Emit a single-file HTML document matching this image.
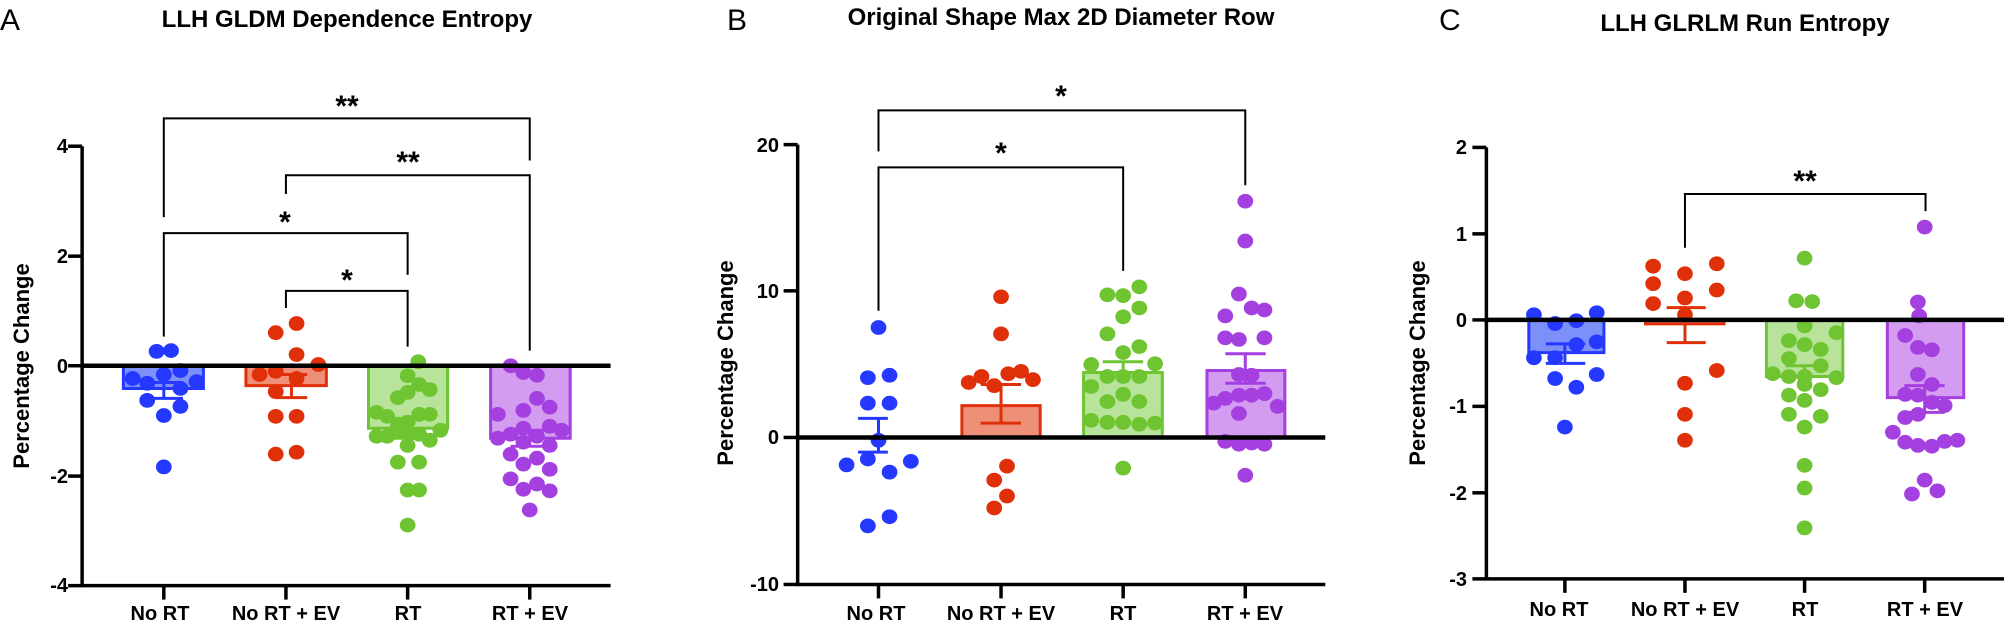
<!DOCTYPE html>
<html><head><meta charset="utf-8"><style>
html,body{margin:0;padding:0;background:#fff}
svg{display:block}
text{font-family:"Liberation Sans",Arial,sans-serif;font-weight:bold;fill:#000}
.ax{stroke:#000;stroke-width:3.5;fill:none}
.br{stroke:#000;stroke-width:2;fill:none}
.z{stroke:#000;stroke-width:4.5}
.tk{font-size:20px}
.cat{font-size:20px}
.ttl{font-size:24px}
.yl{font-size:22px}
.pl{font-size:30px;font-weight:normal}
.st{font-size:30px}
</style></head><body>
<svg width="2008" height="624" viewBox="0 0 2008 624" xmlns="http://www.w3.org/2000/svg">
<defs>
<style>
.g line,.g rect,.g polyline{vector-effect:non-scaling-stroke}
.b circle{fill:#2438FF}.r circle{fill:#E0300A}.gr circle{fill:#6EC531}.p circle{fill:#A43FE0}
</style>
</defs>

<!-- ===== Panel A ===== -->
<text class="pl" x="0" y="30">A</text>
<text class="ttl" x="347" y="27" text-anchor="middle">LLH GLDM Dependence Entropy</text>
<text class="yl" transform="translate(29,366) rotate(-90)" text-anchor="middle">Percentage Change</text>
<g class="tk" text-anchor="end">
<text x="68" y="153">4</text><text x="68" y="263">2</text><text x="68" y="373">0</text><text x="68" y="483">-2</text><text x="68" y="592">-4</text>
</g>
<g class="cat" text-anchor="middle">
<text x="160" y="620">No RT</text><text x="286" y="620">No RT + EV</text><text x="408" y="620">RT</text><text x="530" y="620">RT + EV</text>
</g>
<g class="st" text-anchor="middle">
<text x="347" y="116">**</text><text x="408" y="172">**</text><text x="285" y="232">*</text><text x="347" y="290">*</text>
</g>
<g class="g" transform="scale(0.4255,0.3984)">
<rect x="290" y="918" width="188" height="57" fill="#7D8FF8" stroke="#2438FF" stroke-width="3"/>
<rect x="578" y="918" width="189" height="50" fill="#EE8F78" stroke="#E0300A" stroke-width="3"/>
<rect x="866" y="918" width="186" height="157" fill="#B8E39A" stroke="#6EC531" stroke-width="3"/>
<rect x="1153" y="918" width="187" height="182" fill="#D39CF0" stroke="#A43FE0" stroke-width="3"/>
<g class="b">
<circle cx="368" cy="882" r="18.5"/><circle cx="402" cy="880" r="18.5"/><circle cx="424" cy="930" r="18.5"/><circle cx="385" cy="940" r="18.5"/><circle cx="312" cy="950" r="18.5"/><circle cx="346" cy="962" r="18.5"/><circle cx="462" cy="958" r="18.5"/><circle cx="424" cy="975" r="18.5"/><circle cx="346" cy="1005" r="18.5"/><circle cx="424" cy="1020" r="18.5"/><circle cx="385" cy="1043" r="18.5"/><circle cx="385" cy="1172" r="18.5"/>
</g>
<g class="r">
<circle cx="648" cy="835" r="18.5"/><circle cx="697" cy="812" r="18.5"/><circle cx="697" cy="890" r="18.5"/><circle cx="648" cy="932" r="18.5"/><circle cx="610" cy="940" r="18.5"/><circle cx="748" cy="915" r="18.5"/><circle cx="697" cy="950" r="18.5"/><circle cx="648" cy="983" r="18.5"/><circle cx="697" cy="1045" r="18.5"/><circle cx="648" cy="1045" r="18.5"/><circle cx="648" cy="1140" r="18.5"/><circle cx="697" cy="1135" r="18.5"/>
</g>
<g class="gr">
<circle cx="983" cy="908" r="18.5"/><circle cx="958" cy="943" r="18.5"/><circle cx="985" cy="965" r="18.5"/><circle cx="1010" cy="978" r="18.5"/><circle cx="958" cy="985" r="18.5"/><circle cx="935" cy="998" r="18.5"/><circle cx="885" cy="1035" r="18.5"/><circle cx="910" cy="1045" r="18.5"/><circle cx="985" cy="1040" r="18.5"/><circle cx="1010" cy="1040" r="18.5"/><circle cx="958" cy="1060" r="18.5"/><circle cx="935" cy="1070" r="18.5"/><circle cx="1035" cy="1080" r="18.5"/><circle cx="885" cy="1095" r="18.5"/><circle cx="910" cy="1095" r="18.5"/><circle cx="958" cy="1090" r="18.5"/><circle cx="985" cy="1090" r="18.5"/><circle cx="1010" cy="1105" r="18.5"/><circle cx="958" cy="1118" r="18.5"/><circle cx="935" cy="1160" r="18.5"/><circle cx="985" cy="1160" r="18.5"/><circle cx="958" cy="1230" r="18.5"/><circle cx="985" cy="1230" r="18.5"/><circle cx="958" cy="1318" r="18.5"/><circle cx="935" cy="1080" r="18.5"/>
</g>
<g class="p">
<circle cx="1200" cy="918" r="18.5"/><circle cx="1230" cy="935" r="18.5"/><circle cx="1262" cy="942" r="18.5"/><circle cx="1262" cy="1000" r="18.5"/><circle cx="1292" cy="1022" r="18.5"/><circle cx="1230" cy="1030" r="18.5"/><circle cx="1170" cy="1040" r="18.5"/><circle cx="1230" cy="1075" r="18.5"/><circle cx="1292" cy="1070" r="18.5"/><circle cx="1320" cy="1080" r="18.5"/><circle cx="1200" cy="1090" r="18.5"/><circle cx="1262" cy="1095" r="18.5"/><circle cx="1170" cy="1100" r="18.5"/><circle cx="1230" cy="1110" r="18.5"/><circle cx="1292" cy="1118" r="18.5"/><circle cx="1200" cy="1140" r="18.5"/><circle cx="1262" cy="1150" r="18.5"/><circle cx="1230" cy="1165" r="18.5"/><circle cx="1292" cy="1178" r="18.5"/><circle cx="1200" cy="1202" r="18.5"/><circle cx="1230" cy="1228" r="18.5"/><circle cx="1262" cy="1215" r="18.5"/><circle cx="1292" cy="1232" r="18.5"/><circle cx="1245" cy="1280" r="18.5"/>
</g>
<g stroke-width="3">
<polyline points="340,960 430,960" stroke="#2438FF"/><polyline points="385,960 385,1000" stroke="#2438FF"/><polyline points="340,1000 430,1000" stroke="#2438FF"/>
<polyline points="648,940 722,940" stroke="#E0300A"/><polyline points="685,940 685,998" stroke="#E0300A"/><polyline points="648,998 722,998" stroke="#E0300A"/>
<polyline points="910,1050 1010,1050" stroke="#6EC531"/><polyline points="958,1050 958,1100" stroke="#6EC531"/><polyline points="910,1100 1010,1100" stroke="#6EC531"/>
<polyline points="1200,1080 1290,1080" stroke="#A43FE0"/><polyline points="1245,1080 1245,1120" stroke="#A43FE0"/><polyline points="1200,1120 1290,1120" stroke="#A43FE0"/>
</g>
<line x1="193" y1="918" x2="1435" y2="918" class="z"/>
<polyline class="ax" points="193,367 193,1470 1435,1470"/>
<g class="ax">
<line x1="160" y1="367" x2="193" y2="367"/><line x1="160" y1="643" x2="193" y2="643"/><line x1="160" y1="918" x2="193" y2="918"/><line x1="160" y1="1195" x2="193" y2="1195"/><line x1="160" y1="1470" x2="193" y2="1470"/>
<line x1="385" y1="1470" x2="385" y2="1505"/><line x1="672" y1="1470" x2="672" y2="1505"/><line x1="958" y1="1470" x2="958" y2="1505"/><line x1="1245" y1="1470" x2="1245" y2="1505"/>
</g>
<g class="br">
<polyline points="385,545 385,297 1245,297 1245,403"/>
<polyline points="672,487 672,440 1245,440 1245,880"/>
<polyline points="385,845 385,585 958,585 958,690"/>
<polyline points="672,773 672,730 958,730 958,870"/>
</g>
</g>

<!-- ===== Panel B ===== -->
<text class="pl" x="727" y="30">B</text>
<text class="ttl" x="1061" y="25" text-anchor="middle">Original Shape Max 2D Diameter Row</text>
<text class="yl" transform="translate(733,363) rotate(-90)" text-anchor="middle">Percentage Change</text>
<g class="tk" text-anchor="end">
<text x="779" y="152">20</text><text x="779" y="298">10</text><text x="779" y="444">0</text><text x="779" y="591">-10</text>
</g>
<g class="cat" text-anchor="middle">
<text x="876" y="620">No RT</text><text x="1001" y="620">No RT + EV</text><text x="1123" y="620">RT</text><text x="1245" y="620">RT + EV</text>
</g>
<g class="st" text-anchor="middle">
<text x="1061" y="106">*</text><text x="1001" y="163">*</text>
</g>
<g class="g" transform="translate(670,0) scale(0.4255,0.3984)">
<rect x="686" y="1018" width="184" height="80" fill="#EE8F78" stroke="#E0300A" stroke-width="3"/>
<rect x="972" y="935" width="185" height="163" fill="#B8E39A" stroke="#6EC531" stroke-width="3"/>
<rect x="1262" y="930" width="183" height="168" fill="#D39CF0" stroke="#A43FE0" stroke-width="3"/>
<g class="b">
<circle cx="490" cy="822" r="18.5"/><circle cx="465" cy="948" r="18.5"/><circle cx="516" cy="942" r="18.5"/><circle cx="465" cy="1012" r="18.5"/><circle cx="516" cy="1012" r="18.5"/><circle cx="490" cy="1105" r="18.5"/><circle cx="465" cy="1152" r="18.5"/><circle cx="415" cy="1167" r="18.5"/><circle cx="566" cy="1158" r="18.5"/><circle cx="516" cy="1185" r="18.5"/><circle cx="516" cy="1297" r="18.5"/><circle cx="465" cy="1320" r="18.5"/>
</g>
<g class="r">
<circle cx="778" cy="745" r="18.5"/><circle cx="778" cy="838" r="18.5"/><circle cx="702" cy="960" r="18.5"/><circle cx="732" cy="945" r="18.5"/><circle cx="762" cy="968" r="18.5"/><circle cx="795" cy="938" r="18.5"/><circle cx="825" cy="932" r="18.5"/><circle cx="853" cy="953" r="18.5"/><circle cx="792" cy="1170" r="18.5"/><circle cx="762" cy="1205" r="18.5"/><circle cx="792" cy="1245" r="18.5"/><circle cx="762" cy="1275" r="18.5"/>
</g>
<g class="gr">
<circle cx="1028" cy="740" r="18.5"/><circle cx="1065" cy="742" r="18.5"/><circle cx="1103" cy="720" r="18.5"/><circle cx="1103" cy="773" r="18.5"/><circle cx="1065" cy="795" r="18.5"/><circle cx="1028" cy="838" r="18.5"/><circle cx="1103" cy="870" r="18.5"/><circle cx="1065" cy="885" r="18.5"/><circle cx="990" cy="915" r="18.5"/><circle cx="1140" cy="913" r="18.5"/><circle cx="1028" cy="945" r="18.5"/><circle cx="1065" cy="945" r="18.5"/><circle cx="1103" cy="945" r="18.5"/><circle cx="990" cy="970" r="18.5"/><circle cx="1028" cy="1008" r="18.5"/><circle cx="1065" cy="990" r="18.5"/><circle cx="1103" cy="1008" r="18.5"/><circle cx="990" cy="1055" r="18.5"/><circle cx="1028" cy="1060" r="18.5"/><circle cx="1065" cy="1060" r="18.5"/><circle cx="1103" cy="1065" r="18.5"/><circle cx="1140" cy="1062" r="18.5"/><circle cx="1065" cy="1175" r="18.5"/>
</g>
<g class="p">
<circle cx="1352" cy="505" r="18.5"/><circle cx="1352" cy="605" r="18.5"/><circle cx="1337" cy="738" r="18.5"/><circle cx="1305" cy="793" r="18.5"/><circle cx="1367" cy="773" r="18.5"/><circle cx="1397" cy="778" r="18.5"/><circle cx="1305" cy="848" r="18.5"/><circle cx="1337" cy="852" r="18.5"/><circle cx="1397" cy="848" r="18.5"/><circle cx="1337" cy="940" r="18.5"/><circle cx="1367" cy="942" r="18.5"/><circle cx="1278" cy="1012" r="18.5"/><circle cx="1305" cy="1000" r="18.5"/><circle cx="1337" cy="992" r="18.5"/><circle cx="1367" cy="992" r="18.5"/><circle cx="1397" cy="988" r="18.5"/><circle cx="1428" cy="1020" r="18.5"/><circle cx="1337" cy="1038" r="18.5"/><circle cx="1305" cy="1108" r="18.5"/><circle cx="1337" cy="1115" r="18.5"/><circle cx="1367" cy="1112" r="18.5"/><circle cx="1397" cy="1115" r="18.5"/><circle cx="1352" cy="1193" r="18.5"/>
</g>
<g stroke-width="3">
<polyline points="442,1050 512,1050" stroke="#2438FF"/><polyline points="490,1050 490,1135" stroke="#2438FF"/><polyline points="442,1135 512,1135" stroke="#2438FF"/>
<polyline points="730,965 825,965" stroke="#E0300A"/><polyline points="778,965 778,1062" stroke="#E0300A"/><polyline points="730,1062 825,1062" stroke="#E0300A"/>
<polyline points="1017,908 1112,908" stroke="#6EC531"/><polyline points="1065,908 1065,960" stroke="#6EC531"/>
<polyline points="1305,888 1400,888" stroke="#A43FE0"/><polyline points="1352,888 1352,962" stroke="#A43FE0"/><polyline points="1305,962 1400,962" stroke="#A43FE0"/>
</g>
<line x1="300" y1="1098" x2="1540" y2="1098" class="z"/>
<polyline class="ax" points="300,363 300,1467 1540,1467"/>
<g class="ax">
<line x1="267" y1="363" x2="300" y2="363"/><line x1="267" y1="730" x2="300" y2="730"/><line x1="267" y1="1098" x2="300" y2="1098"/><line x1="267" y1="1467" x2="300" y2="1467"/>
<line x1="490" y1="1467" x2="490" y2="1502"/><line x1="778" y1="1467" x2="778" y2="1502"/><line x1="1065" y1="1467" x2="1065" y2="1502"/><line x1="1352" y1="1467" x2="1352" y2="1502"/>
</g>
<g class="br">
<polyline points="490,380 490,277 1352,277 1352,465"/>
<polyline points="490,780 490,420 1065,420 1065,680"/>
</g>
</g>

<!-- ===== Panel C ===== -->
<text class="pl" x="1439" y="30">C</text>
<text class="ttl" x="1745" y="31" text-anchor="middle">LLH GLRLM Run Entropy</text>
<text class="yl" transform="translate(1425,363) rotate(-90)" text-anchor="middle">Percentage Change</text>
<g class="tk" text-anchor="end">
<text x="1467" y="154">2</text><text x="1467" y="241">1</text><text x="1467" y="327">0</text><text x="1467" y="413">-1</text><text x="1467" y="500">-2</text><text x="1467" y="586">-3</text>
</g>
<g class="cat" text-anchor="middle">
<text x="1559" y="616">No RT</text><text x="1685" y="616">No RT + EV</text><text x="1805" y="616">RT</text><text x="1925" y="616">RT + EV</text>
</g>
<g class="st" text-anchor="middle">
<text x="1805" y="191">**</text>
</g>
<g class="g" transform="translate(1340,0) scale(0.4243,0.3984)">
<rect x="445" y="803" width="177" height="82" fill="#7D8FF8" stroke="#2438FF" stroke-width="3"/>
<rect x="720" y="803" width="185" height="10" fill="#EE8F78" stroke="#E0300A" stroke-width="3"/>
<rect x="1005" y="803" width="180" height="142" fill="#B8E39A" stroke="#6EC531" stroke-width="3"/>
<rect x="1290" y="803" width="180" height="195" fill="#D39CF0" stroke="#A43FE0" stroke-width="3"/>
<g class="b">
<circle cx="457" cy="790" r="18.5"/><circle cx="507" cy="812" r="18.5"/><circle cx="557" cy="805" r="18.5"/><circle cx="605" cy="785" r="18.5"/><circle cx="605" cy="858" r="18.5"/><circle cx="457" cy="898" r="18.5"/><circle cx="507" cy="898" r="18.5"/><circle cx="557" cy="865" r="18.5"/><circle cx="507" cy="950" r="18.5"/><circle cx="557" cy="972" r="18.5"/><circle cx="605" cy="940" r="18.5"/><circle cx="530" cy="1072" r="18.5"/>
</g>
<g class="r">
<circle cx="738" cy="668" r="18.5"/><circle cx="738" cy="712" r="18.5"/><circle cx="738" cy="762" r="18.5"/><circle cx="813" cy="687" r="18.5"/><circle cx="888" cy="662" r="18.5"/><circle cx="888" cy="728" r="18.5"/><circle cx="813" cy="748" r="18.5"/><circle cx="813" cy="790" r="18.5"/><circle cx="888" cy="930" r="18.5"/><circle cx="813" cy="962" r="18.5"/><circle cx="813" cy="1040" r="18.5"/><circle cx="813" cy="1105" r="18.5"/>
</g>
<g class="gr">
<circle cx="1095" cy="648" r="18.5"/><circle cx="1075" cy="755" r="18.5"/><circle cx="1113" cy="757" r="18.5"/><circle cx="1095" cy="818" r="18.5"/><circle cx="1170" cy="835" r="18.5"/><circle cx="1058" cy="855" r="18.5"/><circle cx="1095" cy="865" r="18.5"/><circle cx="1133" cy="877" r="18.5"/><circle cx="1058" cy="900" r="18.5"/><circle cx="1133" cy="918" r="18.5"/><circle cx="1020" cy="938" r="18.5"/><circle cx="1058" cy="945" r="18.5"/><circle cx="1095" cy="945" r="18.5"/><circle cx="1170" cy="948" r="18.5"/><circle cx="1095" cy="965" r="18.5"/><circle cx="1133" cy="978" r="18.5"/><circle cx="1058" cy="992" r="18.5"/><circle cx="1095" cy="1005" r="18.5"/><circle cx="1058" cy="1040" r="18.5"/><circle cx="1133" cy="1045" r="18.5"/><circle cx="1095" cy="1072" r="18.5"/><circle cx="1095" cy="1168" r="18.5"/><circle cx="1095" cy="1225" r="18.5"/><circle cx="1095" cy="1325" r="18.5"/>
</g>
<g class="p">
<circle cx="1378" cy="570" r="18.5"/><circle cx="1362" cy="758" r="18.5"/><circle cx="1365" cy="793" r="18.5"/><circle cx="1332" cy="842" r="18.5"/><circle cx="1362" cy="872" r="18.5"/><circle cx="1395" cy="878" r="18.5"/><circle cx="1362" cy="940" r="18.5"/><circle cx="1395" cy="965" r="18.5"/><circle cx="1332" cy="990" r="18.5"/><circle cx="1362" cy="992" r="18.5"/><circle cx="1395" cy="1010" r="18.5"/><circle cx="1425" cy="1018" r="18.5"/><circle cx="1332" cy="1048" r="18.5"/><circle cx="1362" cy="1040" r="18.5"/><circle cx="1303" cy="1085" r="18.5"/><circle cx="1332" cy="1110" r="18.5"/><circle cx="1362" cy="1118" r="18.5"/><circle cx="1395" cy="1120" r="18.5"/><circle cx="1425" cy="1108" r="18.5"/><circle cx="1455" cy="1105" r="18.5"/><circle cx="1348" cy="1240" r="18.5"/><circle cx="1378" cy="1205" r="18.5"/><circle cx="1408" cy="1232" r="18.5"/>
</g>
<g stroke-width="3">
<polyline points="485,863 578,863" stroke="#2438FF"/><polyline points="530,863 530,912" stroke="#2438FF"/><polyline points="485,912 578,912" stroke="#2438FF"/>
<polyline points="770,772 862,772" stroke="#E0300A"/><polyline points="813,772 813,860" stroke="#E0300A"/><polyline points="770,860 862,860" stroke="#E0300A"/>
<polyline points="1050,918 1140,918" stroke="#6EC531"/><polyline points="1095,918 1095,960" stroke="#6EC531"/>
<polyline points="1330,968 1425,968" stroke="#A43FE0"/><polyline points="1378,968 1378,1035" stroke="#A43FE0"/><polyline points="1330,1035 1425,1035" stroke="#A43FE0"/>
</g>
<line x1="345" y1="803" x2="1565" y2="803" class="z"/>
<polyline class="ax" points="345,370 345,1453 1565,1453"/>
<g class="ax">
<line x1="312" y1="370" x2="345" y2="370"/><line x1="312" y1="587" x2="345" y2="587"/><line x1="312" y1="803" x2="345" y2="803"/><line x1="312" y1="1020" x2="345" y2="1020"/><line x1="312" y1="1237" x2="345" y2="1237"/><line x1="312" y1="1453" x2="345" y2="1453"/>
<line x1="530" y1="1453" x2="530" y2="1488"/><line x1="813" y1="1453" x2="813" y2="1488"/><line x1="1095" y1="1453" x2="1095" y2="1488"/><line x1="1378" y1="1453" x2="1378" y2="1488"/>
</g>
<g class="br">
<polyline points="813,622 813,487 1380,487 1380,530"/>
</g>
</g>
</svg>
</body></html>
